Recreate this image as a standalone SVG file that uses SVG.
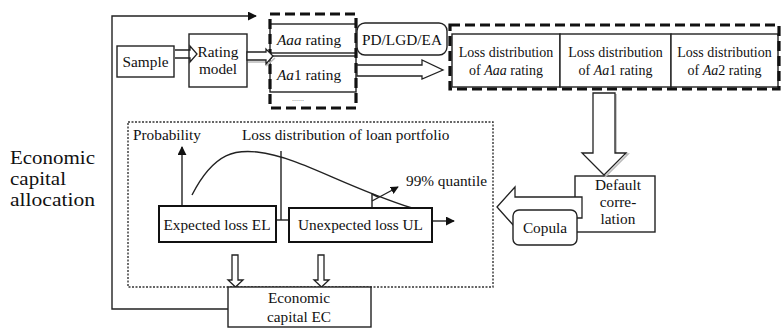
<svg xmlns="http://www.w3.org/2000/svg" width="781" height="331" viewBox="0 0 781 331">
<style>
text{font-family:"Liberation Serif","Times New Roman",serif;font-size:15.3px;fill:#111}
.ld{font-size:14px}
.big{font-size:19.5px}
.box{fill:#fff;stroke:#222;stroke-width:1.4}
.bold{fill:#fff;stroke:#111;stroke-width:2}
.dash{fill:none;stroke:#111;stroke-width:3.2;stroke-dasharray:10 5}
.dot{fill:none;stroke:#333;stroke-width:1.4;stroke-dasharray:2 1.5}
.line{fill:none;stroke:#222;stroke-width:1.4}
.hollow{fill:#fff;stroke:#222;stroke-width:1.3;stroke-linejoin:miter}
.shadow{fill:none;stroke:#bbb;stroke-width:1.6}
.mid{text-anchor:middle}
</style>
<defs>
<marker id="ah" viewBox="0 0 10 10" refX="9" refY="5" markerWidth="9" markerHeight="9" markerUnits="userSpaceOnUse" orient="auto">
<path d="M0,0 L10,5 L0,10 z" fill="#111"/>
</marker>
<marker id="ahs" viewBox="0 0 10 10" refX="9" refY="5" markerWidth="8" markerHeight="8" markerUnits="userSpaceOnUse" orient="auto">
<path d="M0,0 L10,5 L0,10 z" fill="#111"/>
</marker>
</defs>

<g id="label">
<text class="big" x="10" y="164" textLength="85" lengthAdjust="spacingAndGlyphs">Economic</text>
<text class="big" x="10" y="185" textLength="56" lengthAdjust="spacingAndGlyphs">capital</text>
<text class="big" x="10" y="206" textLength="85" lengthAdjust="spacingAndGlyphs">allocation</text>
</g>

<g id="portfolio">
<rect class="dot" x="128" y="122" width="365" height="165"/>
<text x="133" y="140">Probability</text>
<text x="242" y="140">Loss distribution of loan portfolio</text>
<text x="406" y="186">99% quantile</text>
<path class="line" d="M192,195 C215,150 238,150 257,152 C300,157 340,185 412,208"/>
<line class="line" x1="281" y1="151" x2="281" y2="220"/>
<line class="line" x1="372" y1="194" x2="372" y2="208"/>
<path class="line" d="M372,194 L378,197"/>
</g>

<g id="sample"><rect class="box" x="117" y="46" width="57" height="31"/><text class="mid" x="145.5" y="67">Sample</text></g>
<g id="rating-model"><rect class="box" x="189" y="34" width="58" height="53"/><text class="mid" x="218" y="57">Rating</text><text class="mid" x="218" y="74">model</text></g>
<g id="ratings">
<rect class="box" x="270" y="24" width="86" height="29"/>
<text x="277" y="45"><tspan font-style="italic">Aaa</tspan> rating</text>
<rect class="box" x="270" y="56" width="86" height="36"/>
<text x="277" y="80"><tspan font-style="italic">Aa</tspan>1 rating</text>
<text x="292" y="101" style="font-size:8px;fill:#777">......</text>
<rect class="dash" x="270" y="14" width="86" height="94"/>
</g>
<g id="pd-lgd-ea"><rect class="box" x="357" y="23" width="90" height="32" rx="8"/><text class="mid" x="402" y="45">PD/LGD/EA</text></g>
<g id="loss-distributions">
<rect class="box" x="452" y="34" width="108" height="53"/>
<rect class="box" x="560" y="34" width="111" height="53"/>
<rect class="box" x="671" y="34" width="107" height="53"/>
<text class="ld mid" x="506" y="57">Loss distribution</text>
<text class="ld mid" x="506" y="75">of <tspan font-style="italic">Aaa</tspan> rating</text>
<text class="ld mid" x="615.5" y="57">Loss distribution</text>
<text class="ld mid" x="615.5" y="75">of <tspan font-style="italic">Aa</tspan>1 rating</text>
<text class="ld mid" x="724.5" y="57">Loss distribution</text>
<text class="ld mid" x="724.5" y="75">of <tspan font-style="italic">Aa</tspan>2 rating</text>
<rect class="dash" x="450" y="25" width="329" height="64"/>
</g>
<g id="default-correlation"><rect class="box" x="575" y="176" width="80" height="56"/>
<text class="mid" x="618" y="190">Default</text><text class="mid" x="618" y="207">corre-</text><text class="mid" x="618" y="224">lation</text></g>

<g id="connectors">
<polyline class="line" points="228,309 112,309 112,16 256,16" marker-end="url(#ah)"/>
<path class="hollow" style="fill:none" d="M175,50 L190,50 L190,46 L197,54 L190,62 L190,58 L175,58"/>
<path class="shadow" d="M248,62 L267,62 L267,65 L275,58"/>
<path class="hollow" d="M247,52 L266,52 L266,49 L273,56 L266,64 L266,60 L247,60 Z"/>
<path class="hollow" d="M357,65 L422,65 L422,60 L443,70 L422,79 L422,76 L357,76 Z"/>
<path class="shadow" d="M616,94 L616,154 L628,154 L605,177"/>
<path class="hollow" d="M593,93 L615,93 L615,153 L626,153 L604,175 L582,153 L593,153 Z"/>
<path class="shadow" d="M499,209 L516,228"/>
<path class="hollow" d="M497,207 L515,187 L515,197 L582,197 L582,218 L515,218 L515,227 Z"/>
<line class="line" x1="182" y1="205" x2="182" y2="147" marker-end="url(#ah)"/>
<line class="line" x1="276" y1="220" x2="289" y2="220"/>
<line class="line" x1="432" y1="221" x2="454" y2="221" marker-end="url(#ah)"/>
<line class="line" x1="372" y1="201" x2="398" y2="187" marker-end="url(#ahs)"/>
<path class="hollow" d="M232,255 L238,255 L238,280 L243,280 L235.5,287 L228,280 L232,280 Z"/>
<path class="hollow" d="M318,255 L324,255 L324,280 L329,280 L321.5,287 L314,280 L318,280 Z"/>
</g>

<g id="copula"><rect class="box" x="513" y="210" width="64" height="35" rx="6"/><text class="mid" x="545" y="233">Copula</text></g>
<g id="expected-loss"><rect class="bold" x="159" y="206" width="117" height="36"/><text class="mid" x="217" y="230">Expected loss EL</text></g>
<g id="unexpected-loss"><rect class="bold" x="289" y="208" width="143" height="34"/><text class="mid" x="360.5" y="230">Unexpected loss UL</text></g>
<g id="economic-capital"><rect class="box" x="228" y="287" width="143" height="40"/><text class="mid" x="299" y="303">Economic</text><text class="mid" x="299" y="322">capital EC</text></g>
</svg>
